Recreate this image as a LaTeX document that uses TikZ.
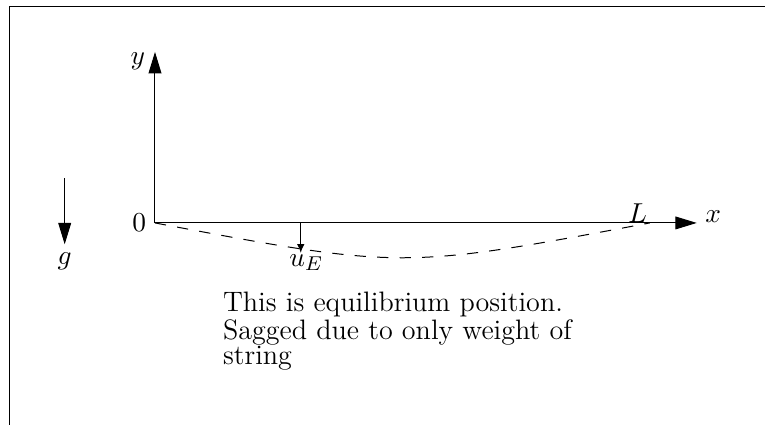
\documentclass[tikz,border=0pt]{standalone}
\usepackage{amsmath}
\usepackage{tikz}
\usetikzlibrary{arrows.meta}

\begin{document}
\begin{tikzpicture}[>={Triangle[length=3mm,width=1.8mm]}]
  \useasboundingbox (-2.18,-2.83) rectangle (8.58,3.136);
  \clip (-2.18,-2.83) rectangle (8.58,3.136);
  \draw (-2.05,-3.2) rectangle (9,3.045);
  \coordinate (o) at (0,0);
  \coordinate (ytip) at (0,2.405);
  \coordinate (xtip) at (7.62,0);
  \coordinate (e) at (6.96,0);
  \coordinate (utop) at (2.05,0);
  \coordinate (utip) at (2.05,-0.42);
  \coordinate (gtop) at (-1.27,0.63);
  \coordinate (gtip) at (-1.27,-0.30);
  \begin{scope}[font = \fontsize{11.25}{9.8}\selectfont]
    \node[left] (zero) at (o) {$0$};
    \node (ylab) at (-0.24,2.28) {$y$};
    \node[anchor=base] (xlab) at (7.85,0) {$x$};
    \node[anchor=base] (len) at (6.79,0) {$L$};
    \node[below, inner sep=0.5pt, xshift=2.2pt] (ulab) at (utip) {$u_E$};
    \node[below] (glab) at (gtip) {$g$};
    \node[anchor=north west, inner sep=0, align=left] (note) at (0.95,-0.97)
      {This is equilibrium position.\\Sagged due to only weight of\\string};
  \end{scope}
  \draw[->] (o) -- (ytip);
  \draw[->] (o) -- (xtip);
  \draw[->] (gtop) -- (gtip);
  \draw[-{Latex[length=3.5pt,width=3pt]}] (utop) -- (utip);
  \draw[dash pattern=on 4.5pt off 4.5pt] (o) .. controls (3.48,-0.653) .. (e);
\end{tikzpicture}
\end{document}
